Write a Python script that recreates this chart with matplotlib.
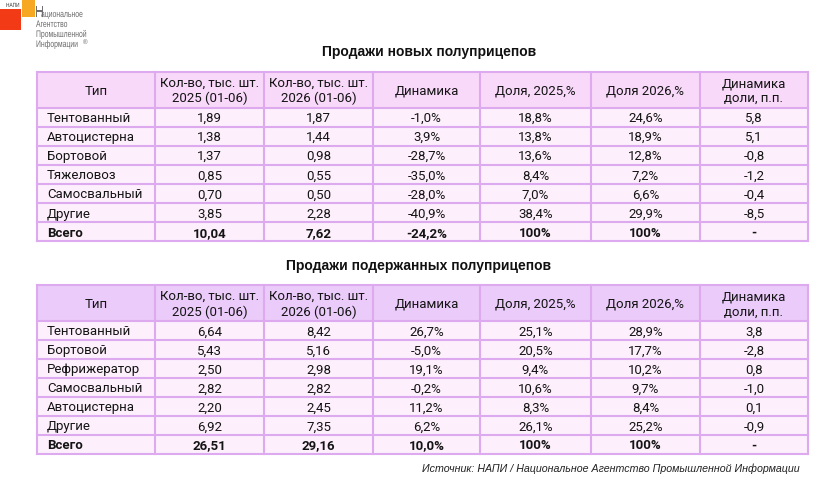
import matplotlib.pyplot as plt
from matplotlib.patches import Rectangle, PathPatch
from matplotlib.textpath import TextPath
from matplotlib.font_manager import FontProperties
from matplotlib.transforms import Affine2D

# ---- data ----
headers = ['Тип', 'Кол-во, тыс. шт.\n2025 (01-06)', 'Кол-во, тыс. шт.\n2026 (01-06)',
           'Динамика', 'Доля, 2025,%', 'Доля 2026,%', 'Динамика\nдоли, п.п.']

new_types = ['Тентованный', 'Автоцистерна', 'Бортовой', 'Тяжеловоз', 'Самосвальный', 'Другие', 'Всего']
new_2025 = [1.89, 1.38, 1.37, 0.85, 0.70, 3.85, 10.04]
new_2026 = [1.87, 1.44, 0.98, 0.55, 0.50, 2.28, 7.62]
new_dyn = [-1.0, 3.9, -28.7, -35.0, -28.0, -40.9, -24.2]
new_share25 = [18.8, 13.8, 13.6, 8.4, 7.0, 38.4, 100]
new_share26 = [24.6, 18.9, 12.8, 7.2, 6.6, 29.9, 100]
new_dshare = [5.8, 5.1, -0.8, -1.2, -0.4, -8.5, None]

used_types = ['Тентованный', 'Бортовой', 'Рефрижератор', 'Самосвальный', 'Автоцистерна', 'Другие', 'Всего']
used_2025 = [6.64, 5.43, 2.50, 2.82, 2.20, 6.92, 26.51]
used_2026 = [8.42, 5.16, 2.98, 2.82, 2.45, 7.35, 29.16]
used_dyn = [26.7, -5.0, 19.1, -0.2, 11.2, 6.2, 10.0]
used_share25 = [25.1, 20.5, 9.4, 10.6, 8.3, 26.1, 100]
used_share26 = [28.9, 17.7, 10.2, 9.7, 8.4, 25.2, 100]
used_dshare = [3.8, -2.8, 0.8, -1.0, 0.1, -0.9, None]

# ---- layout / style ----
col_edges = [37, 155, 264, 373, 480, 591, 700, 808]
border = '#DDAAF0'
row_fill = '#FDF0FC'
font = ['Roboto', 'DejaVu Sans']
fs = 9.5
txt_col = '#141414'


def num(v, d=2):
    return f'{v:.{d}f}'.replace('.', ',')


def pct(v):
    if v == 100:
        return '100%'
    return num(v, 1) + '%'


def draw_table(ax, top, head_h, row_h, head_fill, types, q25, q26, dyn, sh25, sh26, dsh):
    rows = []
    for i in range(len(types)):
        rows.append([types[i], num(q25[i]), num(q26[i]), pct(dyn[i]),
                     pct(sh25[i]), pct(sh26[i]),
                     '-' if dsh[i] is None else num(dsh[i], 1)])
    left, right = col_edges[0], col_edges[-1]
    bottom = top + head_h + row_h * len(rows)
    ax.add_patch(Rectangle((left, top), right - left, head_h, facecolor=head_fill, edgecolor='none'))
    ax.add_patch(Rectangle((left, top + head_h), right - left, bottom - top - head_h,
                           facecolor=row_fill, edgecolor='none'))
    # grid lines
    for x in col_edges:
        ax.plot([x, x], [top, bottom], color=border, lw=1.5, solid_capstyle='projecting')
    ys = [top] + [top + head_h + row_h * k for k in range(len(rows) + 1)]
    for y in ys:
        ax.plot([left, right], [y, y], color=border, lw=1.5, solid_capstyle='projecting')
    # header text
    for j, h in enumerate(headers):
        xc = (col_edges[j] + col_edges[j + 1]) / 2
        ax.text(xc, top + head_h / 2 + 0.5, h, ha='center', va='center', fontsize=fs,
                family=font, color=txt_col, linespacing=1.2)
    # body
    for i, r in enumerate(rows):
        yc = top + head_h + row_h * (i + 0.5) + 0.5
        weight = 'bold' if i == len(rows) - 1 else 'normal'
        for j, val in enumerate(r):
            if j == 0:
                ax.text(col_edges[0] + 10, yc, val, ha='left', va='center', fontsize=fs,
                        family=font, fontweight=weight, color=txt_col)
            else:
                xc = (col_edges[j] + col_edges[j + 1]) / 2
                ax.text(xc, yc, val, ha='center', va='center', fontsize=fs,
                        family=font, fontweight=weight, color=txt_col)


def narrow_text(ax, x, y, s, size, sx=0.72, color='#6a6a6a'):
    # condensed logo lettering: text path squeezed horizontally, y flipped for inverted axis
    tp = TextPath((0, 0), s, size=size, prop=FontProperties(family='Liberation Sans'))
    tr = Affine2D().scale(sx, -1).translate(x, y) + ax.transData
    ax.add_patch(PathPatch(tp, transform=tr, facecolor=color, edgecolor='none'))


fig = plt.figure(figsize=(8.14, 4.81), dpi=100)
ax = fig.add_axes([0, 0, 1, 1])
ax.set_xlim(0, 814)
ax.set_ylim(481, 0)
ax.axis('off')

# logo
ax.add_patch(Rectangle((22, 0), 13, 18, facecolor='#F7A823', edgecolor='none'))
ax.add_patch(Rectangle((0, 10), 21, 21, facecolor='#F23B16', edgecolor='none'))
narrow_text(ax, 6, 8, 'НАПИ', 6, sx=0.8, color='#333333')
narrow_text(ax, 35, 18, 'Н', 16.5, sx=0.75, color='#707070')
narrow_text(ax, 41, 18, 'ациональное', 9.5)
narrow_text(ax, 36, 28, 'Агентство', 9.5)
narrow_text(ax, 36, 38, 'Промышленной', 9.5)
narrow_text(ax, 36, 48, 'Информации', 9.5)
narrow_text(ax, 83, 45, '®', 7, sx=0.9)

# titles
ax.text(429, 52, 'Продажи новых полуприцепов', ha='center', va='center', fontsize=10,
        family='Liberation Sans', fontweight='bold', color='#111111')
ax.text(418, 266, 'Продажи подержанных полуприцепов', ha='center', va='center', fontsize=10,
        family='Liberation Sans', fontweight='bold', color='#111111')

draw_table(ax, 73, 35.5, 19.1, '#F9D9F9', new_types, new_2025, new_2026, new_dyn,
           new_share25, new_share26, new_dshare)
draw_table(ax, 286, 36, 19.0, '#EBCBFA', used_types, used_2025, used_2026, used_dyn,
           used_share25, used_share26, used_dshare)

ax.text(800, 469, 'Источник: НАПИ / Национальное Агентство Промышленной Информации',
        ha='right', va='center', fontsize=7.7, family='Liberation Sans', style='italic',
        color='#222222')

fig.savefig('out.png', dpi=100)
